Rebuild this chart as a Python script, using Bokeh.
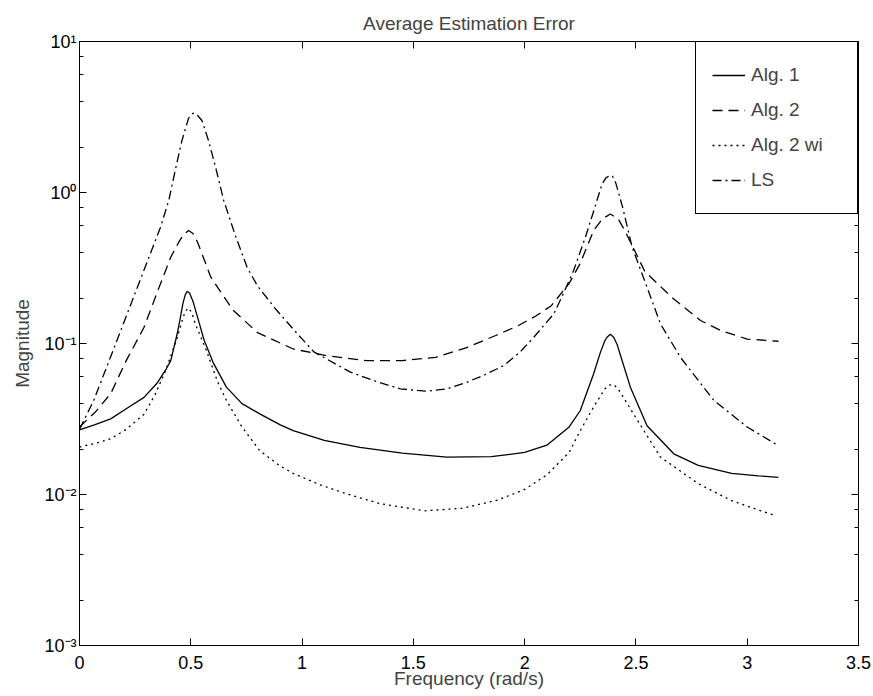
from bokeh.plotting import figure
from bokeh.models import (LogAxis, LinearAxis, Legend, LegendItem, FixedTicker,
                          CustomJSTickFormatter, LogTicker)
from bokeh.embed import file_html
from bokeh.resources import INLINE

# ---------------- data ----------------
alg1_x = [0.00, 0.07, 0.14, 0.21, 0.29, 0.35, 0.39, 0.41, 0.439, 0.45, 0.465, 0.475, 0.484,
          0.495, 0.51, 0.53, 0.56, 0.60, 0.66, 0.73, 0.81, 0.90, 0.96, 1.10, 1.26, 1.45,
          1.65, 1.85, 2.00, 2.10, 2.20, 2.25, 2.31, 2.34, 2.36, 2.37, 2.385, 2.40, 2.415,
          2.43, 2.475, 2.55, 2.67, 2.78, 2.93, 3.05, 3.14]
alg1_y = [0.0268, 0.029, 0.0317, 0.037, 0.044, 0.055, 0.068, 0.077, 0.116, 0.14, 0.185,
          0.21, 0.222, 0.215, 0.19, 0.15, 0.105, 0.075, 0.0514, 0.040, 0.0342, 0.029,
          0.0265, 0.0228, 0.0205, 0.0188, 0.0177, 0.0178, 0.019, 0.0212, 0.028, 0.036,
          0.063, 0.087, 0.104, 0.110, 0.115, 0.110, 0.099, 0.084, 0.0514, 0.0285, 0.0186,
          0.0156, 0.0138, 0.0133, 0.013]

alg2_x = [0.00, 0.07, 0.14, 0.21, 0.29, 0.35, 0.41, 0.45, 0.47, 0.49, 0.51, 0.53, 0.56,
          0.59, 0.69, 0.80, 0.96, 1.11, 1.29, 1.45, 1.60, 1.74, 1.87, 1.97, 2.05, 2.12,
          2.20, 2.25, 2.31, 2.35, 2.385, 2.42, 2.45, 2.54, 2.66, 2.79, 2.88, 3.00, 3.14]
alg2_y = [0.028, 0.035, 0.0465, 0.077, 0.128, 0.22, 0.373, 0.48, 0.53, 0.56, 0.535, 0.47,
          0.36, 0.275, 0.166, 0.118, 0.092, 0.083, 0.077, 0.077, 0.081, 0.094, 0.113,
          0.131, 0.152, 0.178, 0.25, 0.34, 0.56, 0.67, 0.72, 0.67, 0.56, 0.30, 0.203,
          0.142, 0.122, 0.107, 0.1035]

alg2wi_x = [0.00, 0.07, 0.14, 0.21, 0.29, 0.34, 0.39, 0.44, 0.46, 0.475, 0.49, 0.505,
            0.52, 0.54, 0.57, 0.62, 0.66, 0.73, 0.81, 0.90, 0.96, 1.08, 1.20, 1.35, 1.55,
            1.72, 1.88, 2.00, 2.10, 2.20, 2.25, 2.31, 2.36, 2.38, 2.40, 2.42, 2.44, 2.49,
            2.61, 2.78, 2.93, 3.05, 3.12]
alg2wi_y = [0.0206, 0.0218, 0.0234, 0.027, 0.034, 0.046, 0.068, 0.11, 0.14, 0.163, 0.172,
            0.16, 0.135, 0.115, 0.09, 0.056, 0.042, 0.028, 0.0195, 0.0155, 0.0138, 0.0116,
            0.0101, 0.0087, 0.0078, 0.0081, 0.0092, 0.0108, 0.0135, 0.019, 0.0265, 0.038,
            0.050, 0.053, 0.0535, 0.050, 0.045, 0.034, 0.0177, 0.0118, 0.0091, 0.0079,
            0.0073]

ls_x = [0.00, 0.064, 0.139, 0.214, 0.289, 0.364, 0.401, 0.43, 0.46, 0.49, 0.51, 0.53,
        0.55, 0.58, 0.61, 0.648, 0.70, 0.753, 0.80, 0.88, 0.97, 1.053, 1.217, 1.35, 1.442,
        1.562, 1.65, 1.742, 1.82, 1.906, 1.98, 2.041, 2.131, 2.168, 2.22, 2.273, 2.311,
        2.348, 2.365, 2.385, 2.395, 2.41, 2.44, 2.483, 2.55, 2.61, 2.70, 2.85, 3.00, 3.13]
ls_y = [0.027, 0.042, 0.081, 0.157, 0.304, 0.589, 0.885, 1.4, 2.2, 3.1, 3.35, 3.25, 3.0,
        2.2, 1.5, 0.885, 0.52, 0.32, 0.24, 0.17, 0.12, 0.088, 0.0646, 0.055, 0.050,
        0.0483, 0.050, 0.0555, 0.062, 0.0714, 0.088, 0.110, 0.157, 0.205, 0.304, 0.506,
        0.76, 1.14, 1.25, 1.3, 1.28, 1.15, 0.8, 0.434, 0.236, 0.135, 0.081, 0.042, 0.028,
        0.0215]

series_labels = ["Alg. 1", "Alg. 2", "Alg. 2 wi", "LS"]

x_ticks = [0, 0.5, 1, 1.5, 2, 2.5, 3, 3.5]
y_tick_exps = [-3, -2, -1, 0, 1]
y_tick_labels = ["10\u207b\u00b3", "10\u207b\u00b2", "10\u207b\u00b9", "10\u2070", "10\u00b9"]

FONT = "Liberation Sans"

# ---------------- figure ----------------
p = figure(frame_width=779, frame_height=604, x_range=(0, 3.5), y_range=(1e-3, 10),
           y_axis_type="log", output_backend="svg", toolbar_location=None,
           min_border_left=79, min_border_right=15, min_border_top=41,
           min_border_bottom=50, title="Average Estimation Error")

p.title.align = "center"
p.title.text_font = FONT
p.title.text_font_size = "19px"
p.title.text_font_style = "normal"
p.title.standoff = 15

p.outline_line_color = "black"
p.outline_line_width = 1
p.xgrid.visible = False
p.ygrid.visible = False

ylab_fmt = CustomJSTickFormatter(args=dict(exps=y_tick_exps, labels=y_tick_labels), code="""
    const e = Math.round(Math.log10(tick));
    const i = exps.indexOf(e);
    return i >= 0 ? labels[i] : "";
""")
blank_fmt = CustomJSTickFormatter(code="return '';")

def style_axis(ax, show_labels):
    ax.axis_line_color = "black"
    ax.major_tick_in = 7
    ax.major_tick_out = 0
    ax.minor_tick_in = 4
    ax.minor_tick_out = 0
    ax.major_tick_line_color = "black"
    ax.minor_tick_line_color = "black"
    ax.major_label_text_font = FONT
    ax.major_label_text_color = "black"
    ax.major_label_text_font_size = "18px"
    if not show_labels:
        ax.formatter = blank_fmt
        ax.major_label_standoff = 0

# bottom axis
xa = p.xaxis[0]
xa.ticker = FixedTicker(ticks=x_ticks)
style_axis(xa, True)
xa.minor_tick_line_color = None
xa.major_label_standoff = 10
xa.axis_label = "Frequency (rad/s)"
xa.axis_label_text_font = FONT
xa.axis_label_text_font_size = "19px"
xa.axis_label_text_font_style = "normal"
xa.axis_label_standoff = -4

# left axis
ya = p.yaxis[0]
ya.ticker = LogTicker()
ya.formatter = ylab_fmt
style_axis(ya, True)
ya.major_label_standoff = 3
ya.axis_label = "Magnitude"
ya.axis_label_text_font = FONT
ya.axis_label_text_font_size = "19px"
ya.axis_label_text_font_style = "normal"
ya.axis_label_standoff = 8

# mirrored axes (box with inward ticks)
top_ax = LinearAxis(ticker=FixedTicker(ticks=x_ticks))
style_axis(top_ax, False)
top_ax.minor_tick_line_color = None
p.add_layout(top_ax, "above")

right_ax = LogAxis(ticker=LogTicker())
style_axis(right_ax, False)
p.add_layout(right_ax, "right")

# ---------------- lines ----------------
r1 = p.line(alg1_x, alg1_y, line_color="black", line_width=1.3)
r2 = p.line(alg2_x, alg2_y, line_color="black", line_width=1.3, line_dash="10 6")
r3 = p.line(alg2wi_x, alg2wi_y, line_color="black", line_width=1.3, line_dash="2 4")
r4 = p.line(ls_x, ls_y, line_color="black", line_width=1.3, line_dash="9 4 2 4")

legend = Legend(items=[LegendItem(label=lab, renderers=[r])
                       for lab, r in zip(series_labels, [r1, r2, r3, r4])],
                location="top_right")
legend.margin = 0
legend.padding = 16
legend.spacing = 1
legend.glyph_height = 34
legend.label_height = 34
legend.glyph_width = 33
legend.label_standoff = 6
legend.label_width = 90
legend.border_line_color = "black"
legend.border_line_width = 1
legend.border_line_alpha = 1
legend.background_fill_alpha = 1
legend.label_text_font = FONT
legend.label_text_font_size = "19px"
p.add_layout(legend, "center")

open("out.html", "w").write(file_html(p, INLINE))
